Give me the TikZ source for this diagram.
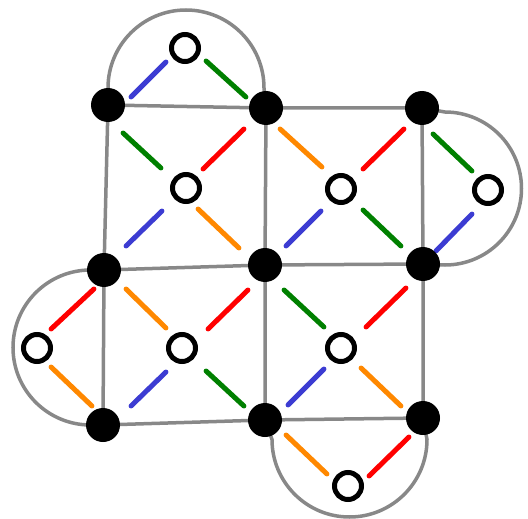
\documentclass[tikz,border=0pt]{standalone}
\definecolor{edgegray}{RGB}{136,136,136}
\definecolor{sblue}{RGB}{60,60,210}
\definecolor{sgreen}{RGB}{0,128,0}
\definecolor{sred}{RGB}{255,0,0}
\definecolor{sorange}{RGB}{255,136,0}
\begin{document}
\begin{tikzpicture}[x=1pt,y=-1pt,
  edge/.style={draw=edgegray,line width=3.5pt},
  seg/.style={line width=5pt,line cap=round,shorten <=1.5pt,shorten >=1.5pt},
  bnode/.style={circle,fill=black,inner sep=0pt,minimum size=34pt},
  wnode/.style={circle,draw=black,fill=white,line width=5pt,inner sep=0pt,minimum size=27pt}]
\useasboundingbox (0,0) rectangle (528,519);
% positions
\coordinate (pA1) at (108,105); \coordinate (pA2) at (266,108); \coordinate (pA3) at (422,108);
\coordinate (pB1) at (104,270); \coordinate (pB2) at (265,265); \coordinate (pB3) at (423,264);
\coordinate (pC1) at (103,425); \coordinate (pC2) at (265,420); \coordinate (pC3) at (423,418);
% grid edges
\draw[edge] (pA1) -- (pA2) -- (pA3);
\draw[edge] (pB1) -- (pB2) -- (pB3);
\draw[edge] (pC1) -- (pC2) -- (pC3);
\draw[edge] (pA1) -- (pB1) -- (pC1);
\draw[edge] (pA2) -- (pB2) -- (pC2);
\draw[edge] (pA3) -- (pB3) -- (pC3);
% arcs
\draw[edge] (pA1) -- (108,88) arc[start angle=180,end angle=0,radius=78pt] -- (pA2);
\draw[edge] (pA3) -- (445,112) arc[start angle=90,end angle=-90,radius=76.5pt] -- (pB3);
\draw[edge] (pB1) -- (90.5,270) arc[start angle=90,end angle=270,radius=77.5pt] -- (pC1);
\draw[edge] (pC2) -- (272,439.5) arc[start angle=180,end angle=360,radius=77.5pt] -- (pC3);
% coloured segments
\draw[seg,sblue]   (130,98) -- (167,61);
\draw[seg,sgreen]  (205,60) -- (247,98);
\draw[seg,sgreen]  (122,132) -- (162,169);
\draw[seg,sred]    (202,170) -- (245,128);
\draw[seg,sblue]   (125,247) -- (163,210);
\draw[seg,sorange] (197,208) -- (240,249);
\draw[seg,sorange] (279,128) -- (323,168);
\draw[seg,sred]    (362,170) -- (405,128);
\draw[seg,sblue]   (322,210) -- (285,247);
\draw[seg,sgreen]  (362,209) -- (402,247);
\draw[seg,sgreen]  (432,133) -- (473,172);
\draw[seg,sblue]   (473,213) -- (435,252);
\draw[seg,sred]    (50,330) -- (95,288);
\draw[seg,sorange] (50,366) -- (93,407);
\draw[seg,sorange] (125,288) -- (167,329);
\draw[seg,sred]    (207,330) -- (249,289);
\draw[seg,sblue]   (130,407) -- (167,371);
\draw[seg,sgreen]  (205,370) -- (245,407);
\draw[seg,sgreen]  (283,289) -- (325,328);
\draw[seg,sred]    (365,328) -- (407,287);
\draw[seg,sblue]   (325,368) -- (287,406);
\draw[seg,sorange] (360,367) -- (402,407);
\draw[seg,sorange] (285,434) -- (328,475);
\draw[seg,sred]    (368,477) -- (410,436);
% black nodes
\node[bnode] (A1) at (pA1) {}; \node[bnode] (A2) at (pA2) {}; \node[bnode] (A3) at (pA3) {};
\node[bnode] (B1) at (pB1) {}; \node[bnode] (B2) at (pB2) {}; \node[bnode] (B3) at (pB3) {};
\node[bnode] (C1) at (pC1) {}; \node[bnode] (C2) at (pC2) {}; \node[bnode] (C3) at (pC3) {};
% white nodes
\node[wnode] (W1) at (185,48) {};
\node[wnode] (W2) at (186,188) {};
\node[wnode] (W3) at (341,189) {};
\node[wnode] (W4) at (488,190) {};
\node[wnode] (W5) at (37,348) {};
\node[wnode] (W6) at (182,348) {};
\node[wnode] (W7) at (341,348) {};
\node[wnode] (W8) at (348,486) {};
\end{tikzpicture}
\end{document}
